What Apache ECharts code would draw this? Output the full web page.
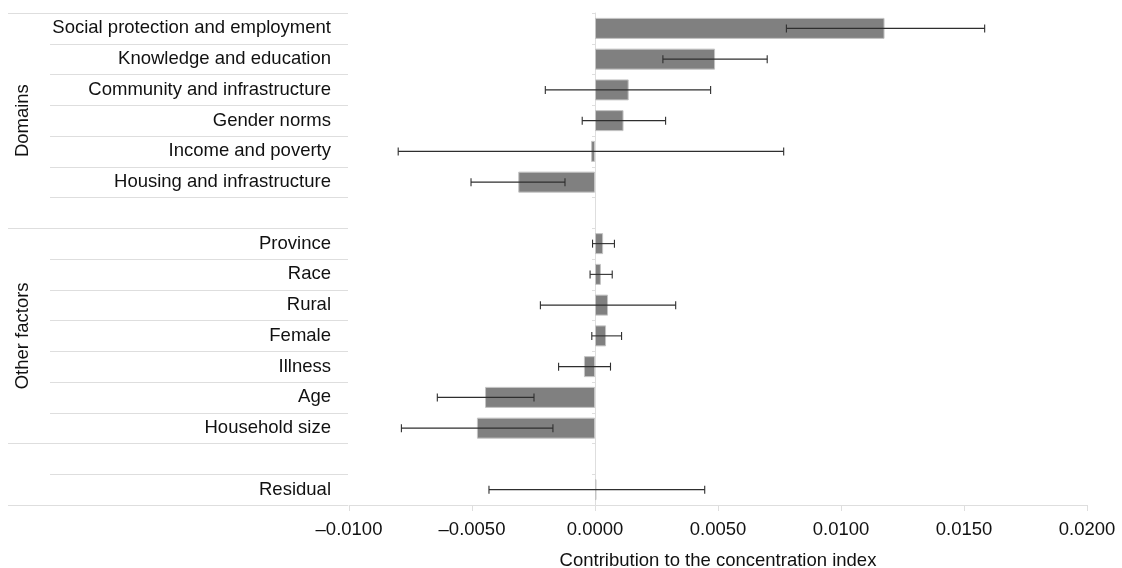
<!DOCTYPE html>
<html>
<head>
<meta charset="utf-8">
<script src="https://cdn.jsdelivr.net/npm/echarts@6/dist/echarts.min.js"></script>
<style>
  html, body { margin: 0; padding: 0; background: #fff; }
  #chart { width: 1122px; height: 568px; }
</style>
</head>
<body>
<div id="chart"></div>
<script>
// rows top to bottom, blank strings are the gaps between groups
const categories = [
  'Social protection and employment', 'Knowledge and education', 'Community and infrastructure',
  'Gender norms', 'Income and poverty', 'Housing and infrastructure', ' ',
  'Province', 'Race', 'Rural', 'Female', 'Illness', 'Age', 'Household size', '  ',
  'Residual'
];
const contribution = [0.01177, 0.00488, 0.00137, 0.00116, -0.00016, -0.00312, null,
  0.00033, 0.00024, 0.00053, 0.00045, -0.00045, -0.00447, -0.00480, null, 0.00006];
const ciLower = [0.00778, 0.00276, -0.00202, -0.00052, -0.00800, -0.00504, null,
  -0.00010, -0.00020, -0.00222, -0.00013, -0.00148, -0.00641, -0.00787, null, -0.00431];
const ciUpper = [0.01584, 0.00700, 0.00470, 0.00287, 0.00767, -0.00122, null,
  0.00079, 0.00070, 0.00328, 0.00108, 0.00063, -0.00248, -0.00171, null, 0.00446];
const xTicks = { min: -0.01, max: 0.02, step: 0.005 };
const groups = [
  { name: 'Domains', first: 0, last: 6 },
  { name: 'Other factors', first: 7, last: 13 }
];

const FONT = "'Liberation Sans', Arial, sans-serif";
const FS = 18.5;
const GRID_TOP = 13, GRID_H = 492;

// long separator lines only at group boundaries (0, 7, 14, 16)
const longLineColors = categories.map(() => 'rgba(0,0,0,0)');
longLineColors.push('rgba(0,0,0,0)');
[0, 7, 14, 16].forEach(i => { longLineColors[i] = '#dedede'; });

const errData = [];
ciLower.forEach((lo, i) => {
  if (lo !== null) errData.push([lo, ciUpper[i], i]);
});

const chart = echarts.init(document.getElementById('chart'));

const option = {
  animation: false,
  textStyle: { fontFamily: FONT },
  grid: [
    { left: 349, top: GRID_TOP, width: 738, height: GRID_H, outerBoundsMode: 'none' },   // bars
    { left: 50, top: GRID_TOP, width: 298, height: GRID_H, outerBoundsMode: 'none' },    // row labels
    { left: 8, top: GRID_TOP, width: 42, height: GRID_H, outerBoundsMode: 'none' }       // group column
  ],
  xAxis: [
    {
      gridIndex: 0, type: 'value',
      min: xTicks.min, max: xTicks.max, interval: xTicks.step,
      axisLine: { show: true, lineStyle: { color: '#dedede', width: 1 } },
      axisTick: { show: true, length: 6, lineStyle: { color: '#dedede' } },
      axisLabel: {
        color: '#111', fontSize: FS, margin: 15, fontFamily: FONT,
        formatter: v => (v < 0 ? '\u2013' : '') + Math.abs(v).toFixed(4)
      },
      splitLine: { show: false },
      name: 'Contribution to the concentration index',
      nameLocation: 'middle', nameGap: 46,
      nameTextStyle: { color: '#111', fontSize: FS, fontFamily: FONT }
    },
    { gridIndex: 1, type: 'value', show: false },
    { gridIndex: 2, type: 'value', show: false }
  ],
  yAxis: [
    {
      gridIndex: 0, type: 'category', inverse: true, data: categories,
      axisLine: { show: true, onZero: true, lineStyle: { color: '#dedede' } },
      axisTick: { show: true, length: 3, lineStyle: { color: '#dedede' } },
      axisLabel: { show: false },
      splitLine: { show: false }
    },
    {
      gridIndex: 1, type: 'category', inverse: true, data: categories, position: 'right',
      axisLine: { show: false }, axisTick: { show: false },
      axisLabel: { inside: true, margin: 17, color: '#111', fontSize: FS, fontFamily: FONT },
      splitLine: { show: true, showMinLine: true, showMaxLine: true, lineStyle: { color: '#dedede' } }
    },
    {
      gridIndex: 2, type: 'category', inverse: true, data: categories,
      axisLine: { show: false }, axisTick: { show: false }, axisLabel: { show: false },
      splitLine: { show: true, showMinLine: true, showMaxLine: true, lineStyle: { color: longLineColors } }
    }
  ],
  series: [
    {
      type: 'bar', xAxisIndex: 0, yAxisIndex: 0,
      data: contribution, barWidth: 21,
      itemStyle: { color: '#808080', borderColor: '#c4c4c4', borderWidth: 1 }
    },
    {
      type: 'custom', xAxisIndex: 0, yAxisIndex: 0, z: 5,
      data: errData,
      encode: { x: [0, 1], y: 2 },
      renderItem: (params, api) => {
        const a = api.coord([api.value(0), api.value(2)]);
        const b = api.coord([api.value(1), api.value(2)]);
        const h = 4;
        const style = { stroke: '#2e2e2e', lineWidth: 1.1 };
        return {
          type: 'group',
          children: [
            { type: 'line', shape: { x1: a[0], y1: a[1], x2: b[0], y2: b[1] }, style },
            { type: 'line', shape: { x1: a[0], y1: a[1] - h, x2: a[0], y2: a[1] + h }, style },
            { type: 'line', shape: { x1: b[0], y1: b[1] - h, x2: b[0], y2: b[1] + h }, style }
          ]
        };
      }
    }
  ]
};

chart.setOption(option);

// rotated group titles, centred on their rows
const rowH = GRID_H / categories.length;
chart.setOption({
  graphic: groups.map(g => {
    const y0 = chart.convertToPixel({ yAxisIndex: 2 }, g.first) - rowH / 2;
    const y1 = chart.convertToPixel({ yAxisIndex: 2 }, g.last) + rowH / 2;
    return {
      type: 'text', x: 23, y: (y0 + y1) / 2, rotation: Math.PI / 2,
      style: {
        text: g.name, fill: '#111', font: FS + 'px ' + FONT,
        textAlign: 'center', textVerticalAlign: 'middle'
      }
    };
  })
});

window.addEventListener('resize', () => chart.resize());
</script>
</body>
</html>
